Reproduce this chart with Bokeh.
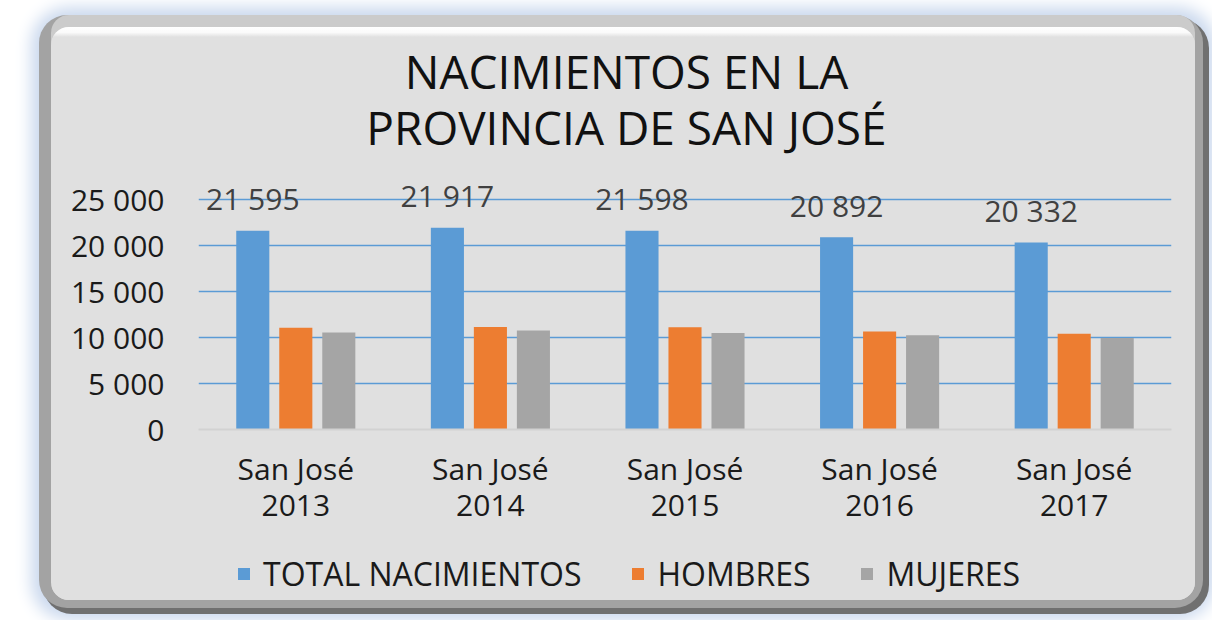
from bokeh.plotting import figure
from bokeh.layouts import column, row
from bokeh.models import (ColumnDataSource, FactorRange, Range1d, FixedTicker, Spacer, Div,
                          Label, LabelSet, Legend, LegendItem)
from bokeh.core.properties import value
from bokeh.transform import dodge
from bokeh.embed import file_html
from bokeh.resources import INLINE

# ---- data ----
categories = ["San José\n2013", "San José\n2014", "San José\n2015", "San José\n2016", "San José\n2017"]
total = [21595, 21917, 21598, 20892, 20332]
hombres = [11050, 11150, 11100, 10650, 10400]
mujeres = [10545, 10767, 10498, 10242, 9932]
total_labels = ["21 595", "21 917", "21 598", "20 892", "20 332"]
y_ticks = [0, 5000, 10000, 15000, 20000, 25000]
y_tick_labels = ["0", "5 000", "10 000", "15 000", "20 000", "25 000"]
series_names = ["TOTAL NACIMIENTOS", "HOMBRES", "MUJERES"]
title_lines = ["NACIMIENTOS EN LA", "PROVINCIA DE SAN JOSÉ"]

colors = ["#5b9bd5", "#ed7d31", "#a5a5a5"]
FONT = "Open Sans"
PANEL = "#e0e0e0"

src = ColumnDataSource(dict(cat=categories, total=total, hombres=hombres, mujeres=mujeres,
                            lbl=total_labels))

# top highlight strip of the panel (page y 27..37)
highlight = Div(text="", width=1144, height=10, margin=0,
                styles={"background": "linear-gradient(to bottom, #ffffff 0%, #fafafa 55%, #e0e0e0 100%)"})

# main canvas placed at page (51, 37); frame spans canvas x 147..1120, y 0..392
p = figure(width=1144, height=512, x_range=FactorRange(*categories), y_range=Range1d(0, 42600),
           output_backend="svg", toolbar_location=None,
           min_border_left=147, min_border_right=24, min_border_top=0, min_border_bottom=120)
p.border_fill_color = PANEL
p.background_fill_color = PANEL
p.outline_line_color = None

# ---- bars ----
w = 0.17
step = 0.221
keys = ["total", "hombres", "mujeres"]
for i, k in enumerate(keys):
    p.vbar(x=dodge("cat", (i - 1) * step, range=p.x_range), top=k, width=w, source=src,
           fill_color=colors[i], line_color=None)

# data labels above the total bars
labels = LabelSet(x=dodge("cat", -step, range=p.x_range), y="total", text="lbl", source=src,
                  y_offset=32, text_align="center", text_baseline="middle",
                  text_font=value(FONT), text_font_size="30px", text_color="#404040")
p.add_layout(labels)

# ---- axes ----
p.yaxis.ticker = FixedTicker(ticks=y_ticks)
p.yaxis.major_label_overrides = {t: s for t, s in zip(y_ticks, y_tick_labels)}
p.yaxis.axis_line_color = None
p.yaxis.major_tick_line_color = None
p.yaxis.minor_tick_line_color = None
p.yaxis.major_tick_out = 0
p.yaxis.major_label_standoff = 34
p.yaxis.major_label_text_font = FONT
p.yaxis.major_label_text_font_size = "30px"
p.yaxis.major_label_text_color = "#1a1a1a"

p.xaxis.axis_line_color = "#d2d2d2"
p.xaxis.axis_line_width = 2
p.xaxis.major_tick_line_color = None
p.xaxis.minor_tick_line_color = None
p.xaxis.major_tick_out = 0
p.xaxis.major_label_standoff = 18
p.xaxis.major_label_text_font = FONT
p.xaxis.major_label_text_font_size = "30px"
p.xaxis.major_label_text_line_height = 0.88
p.xaxis.major_label_text_color = "#1a1a1a"
p.xaxis.major_label_orientation = "horizontal"

p.xgrid.grid_line_color = None
p.ygrid.ticker = FixedTicker(ticks=y_ticks[1:])
p.ygrid.grid_line_color = "#5b9bd5"
p.ygrid.grid_line_width = 1.6

# ---- title (screen units relative to the frame) ----
for txt, yb in zip(title_lines, [359, 303]):
    p.add_layout(Label(x=428, y=yb, x_units="screen", y_units="screen", text=txt,
                       text_align="center", text_baseline="alphabetic",
                       text_font=FONT, text_font_size="46px", text_color="#111111"))

# ---- legend strip (separate figure below the chart) ----
pl = figure(width=1144, height=51, x_range=Range1d(0, 1), y_range=Range1d(0, 1),
            output_backend="svg", toolbar_location=None, x_axis_location=None, y_axis_location=None,
            min_border_left=0, min_border_right=0, min_border_top=0, min_border_bottom=0)
pl.border_fill_color = PANEL
pl.background_fill_color = PANEL
pl.outline_line_color = None
pl.grid.visible = False
# zero-height swatch renderers outside the visible range; they only feed the legend glyphs
leg_renderers = [pl.vbar(x=[5], top=[0], width=0.1, fill_color=c, line_color=None) for c in colors]
legend = Legend(items=[LegendItem(label=n, renderers=[r]) for n, r in zip(series_names, leg_renderers)],
                orientation="horizontal", location=(38, 5), margin=0,
                glyph_width=15, glyph_height=15, label_standoff=12, spacing=49, padding=0,
                label_text_font=FONT, label_text_font_size="32px", label_text_color="#1a1a1a",
                background_fill_alpha=0, border_line_color=None)
pl.add_layout(legend)

panel = column(highlight, p, pl, spacing=0)
panel.styles = {
    "border-radius": "18px",
    "overflow": "hidden",
    "background-color": PANEL,
    "box-shadow": ("0 -12px 0 0 #cbcbcb, -2px -2px 0 10px #a3a3a3, "
                   "3px 3px 0 11px #707070, 0 0 16px 20px #cbd9ee"),
}

layout = column(Spacer(height=27), row(Spacer(width=51), panel))
open("out.html", "w").write(file_html(layout, INLINE))
